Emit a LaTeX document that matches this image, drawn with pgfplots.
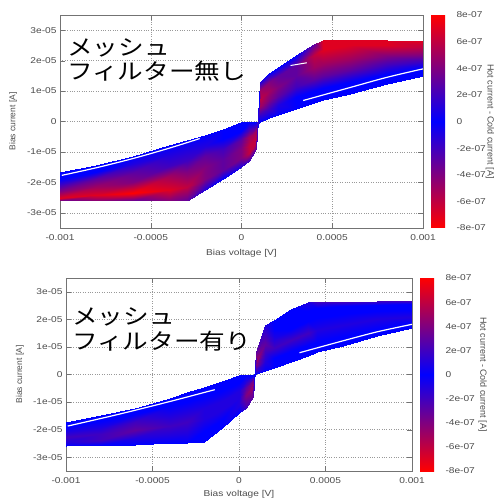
\documentclass[border=0pt]{standalone}
\usepackage{fontspec}
\setmainfont{Liberation Sans}
\newfontfamily\hsf[FakeStretch=1.2]{Liberation Sans}
\newfontfamily\jp[FakeStretch=1.17]{Noto Sans CJK JP}
\usepackage{pgfplots}
\usepackage{pgfplotstable}
\pgfplotsset{compat=1.18}

\pgfplotstableread{
x y c
-0.001 -1.67e-5 0
-0.0008 -1.42e-5 0
-0.0006 -1.12e-5 0
-0.0004 -0.78e-5 0
-0.0003 -0.62e-5 0
-0.0002 -0.46e-5 0
-0.0001 -0.24e-5 0
0 -0.02e-5 0
0.00004 0 0
0.00008 0 0
0.0001 0 0
0.00015 0.1e-5 0
0.0002 0.22e-5 0
0.0003 0.42e-5 0
0.0004 0.62e-5 0
0.00045 0.7e-5 0
0.0006 0.92e-5 0
0.0008 1.22e-5 0
0.001 1.5e-5 0
-0.001 -1.9e-5 0
-0.0008 -1.65e-5 0
-0.0006 -1.4e-5 -1e-7
-0.0004 -1.1e-5 -1e-7
-0.0003 -0.95e-5 -1e-7
-0.0002 -0.8e-5 -1e-7
-0.0001 -0.58e-5 0
0 -0.3e-5 0
0.00004 -0.25e-5 -2e-7
0.00008 -0.15e-5 -2e-7
0.0001 0.25e-5 2e-7
0.00015 0.4e-5 2e-7
0.0002 0.55e-5 1e-7
0.0003 0.8e-5 0
0.0004 1.0e-5 0
0.00045 1.1e-5 0
0.0006 1.3e-5 0
0.0008 1.55e-5 0
0.001 1.75e-5 0
-0.001 -2.1e-5 -2e-7
-0.0008 -1.9e-5 -3e-7
-0.0006 -1.7e-5 -3e-7
-0.0004 -1.45e-5 -2e-7
-0.0003 -1.3e-5 -2e-7
-0.0002 -1.15e-5 -3e-7
-0.0001 -0.9e-5 -2e-7
0 -0.6e-5 -3e-7
0.00004 -0.5e-5 -5e-7
0.00008 -0.3e-5 -5e-7
0.0001 0.5e-5 5e-7
0.00015 0.7e-5 4e-7
0.0002 0.85e-5 3e-7
0.0003 1.15e-5 2e-7
0.0004 1.4e-5 3e-7
0.00045 1.5e-5 3e-7
0.0006 1.7e-5 3e-7
0.0008 1.85e-5 2e-7
0.001 2.0e-5 2e-7
-0.001 -2.3e-5 -4e-7
-0.0008 -2.15e-5 -5e-7
-0.0006 -2.0e-5 -4e-7
-0.0004 -1.8e-5 -5e-7
-0.0003 -1.65e-5 -4e-7
-0.0002 -1.5e-5 -4e-7
-0.0001 -1.25e-5 -3e-7
0 -0.9e-5 -4e-7
0.00004 -0.8e-5 -6e-7
0.00008 -0.5e-5 -6e-7
0.0001 0.75e-5 6e-7
0.00015 1.0e-5 5e-7
0.0002 1.15e-5 4e-7
0.0003 1.5e-5 3e-7
0.0004 1.8e-5 5e-7
0.00045 1.9e-5 5e-7
0.0006 2.05e-5 5e-7
0.0008 2.15e-5 4e-7
0.001 2.2e-5 4e-7
-0.001 -2.5e-5 -7e-7
-0.0008 -2.4e-5 -7e-7
-0.0006 -2.35e-5 -8e-7
-0.0004 -2.25e-5 -7e-7
-0.0003 -2.15e-5 -6e-7
-0.0002 -1.9e-5 -4e-7
-0.0001 -1.6e-5 -3e-7
0 -1.2e-5 -4e-7
0.00004 -1.05e-5 -6e-7
0.00008 -0.7e-5 -6e-7
0.0001 1.0e-5 5e-7
0.00015 1.3e-5 4e-7
0.0002 1.5e-5 3e-7
0.0003 1.85e-5 3e-7
0.0004 2.2e-5 6e-7
0.00045 2.35e-5 7e-7
0.0006 2.5e-5 7e-7
0.0008 2.5e-5 7e-7
0.001 2.45e-5 6e-7
-0.001 -2.6e-5 -3e-7
-0.0008 -2.6e-5 -4e-7
-0.0006 -2.6e-5 -3e-7
-0.0004 -2.6e-5 -4e-7
-0.0003 -2.6e-5 -3e-7
-0.0002 -2.25e-5 -1e-7
-0.0001 -1.9e-5 0
0 -1.5e-5 -1e-7
0.00004 -1.3e-5 -2e-7
0.00008 -0.9e-5 -3e-7
0.0001 1.3e-5 1e-7
0.00015 1.6e-5 0
0.0002 1.8e-5 0
0.0003 2.2e-5 0
0.0004 2.55e-5 3e-7
0.00045 2.68e-5 7e-7
0.0006 2.68e-5 7e-7
0.0008 2.67e-5 7e-7
0.001 2.65e-5 7e-7
}\toptab

\pgfplotstableread{
x y c
-0.001 -1.72e-5 0
-0.0008 -1.47e-5 0
-0.0006 -1.2e-5 0
-0.0004 -0.85e-5 0
-0.0003 -0.65e-5 0
-0.0002 -0.45e-5 0
-0.0001 -0.25e-5 0
0 0 0
0.00004 0 0
0.00008 0 0
0.0001 0.02e-5 0
0.00015 0.12e-5 0
0.0002 0.25e-5 0
0.0003 0.45e-5 0
0.0004 0.68e-5 0
0.00045 0.8e-5 0
0.0006 1.05e-5 0
0.0008 1.38e-5 0
0.001 1.67e-5 0
-0.001 -1.9e-5 0
-0.0008 -1.68e-5 0
-0.0006 -1.42e-5 0
-0.0004 -1.15e-5 0
-0.0003 -0.98e-5 0
-0.0002 -0.82e-5 0
-0.0001 -0.6e-5 0
0 -0.3e-5 0
0.00004 -0.25e-5 -1e-7
0.00008 -0.12e-5 -2e-7
0.0001 0.18e-5 2e-7
0.00015 0.45e-5 1e-7
0.0002 0.6e-5 0
0.0003 0.85e-5 0
0.0004 1.08e-5 0
0.00045 1.18e-5 0
0.0006 1.4e-5 0
0.0008 1.65e-5 0
0.001 1.85e-5 0
-0.001 -2.1e-5 -1e-7
-0.0008 -1.93e-5 -1e-7
-0.0006 -1.73e-5 -2e-7
-0.0004 -1.5e-5 -1e-7
-0.0003 -1.35e-5 -1e-7
-0.0002 -1.2e-5 -1e-7
-0.0001 -0.95e-5 -1e-7
0 -0.6e-5 -1e-7
0.00004 -0.5e-5 -3e-7
0.00008 -0.25e-5 -4e-7
0.0001 0.35e-5 4e-7
0.00015 0.8e-5 2e-7
0.0002 0.95e-5 2e-7
0.0003 1.25e-5 2e-7
0.0004 1.5e-5 2e-7
0.00045 1.6e-5 1e-7
0.0006 1.8e-5 1e-7
0.0008 2.0e-5 1e-7
0.001 2.1e-5 1e-7
-0.001 -2.28e-5 -2e-7
-0.0008 -2.15e-5 -2e-7
-0.0006 -2.02e-5 -3e-7
-0.0004 -1.85e-5 -2e-7
-0.0003 -1.72e-5 -2e-7
-0.0002 -1.6e-5 -1e-7
-0.0001 -1.3e-5 -1e-7
0 -0.85e-5 -1e-7
0.00004 -0.75e-5 -4e-7
0.00008 -0.4e-5 -5e-7
0.0001 0.5e-5 5e-7
0.00015 1.1e-5 3e-7
0.0002 1.3e-5 1e-7
0.0003 1.65e-5 0
0.0004 1.95e-5 0
0.00045 2.05e-5 0
0.0006 2.2e-5 0
0.0008 2.3e-5 0
0.001 2.35e-5 0
-0.001 -2.45e-5 -1e-7
-0.0008 -2.38e-5 -2e-7
-0.0006 -2.3e-5 -1e-7
-0.0004 -2.2e-5 -1e-7
-0.0003 -2.12e-5 -1e-7
-0.0002 -2.05e-5 0
-0.0001 -1.65e-5 0
0 -1.1e-5 -1e-7
0.00004 -0.95e-5 -3e-7
0.00008 -0.6e-5 -4e-7
0.0001 0.65e-5 4e-7
0.00015 1.45e-5 2e-7
0.0002 1.65e-5 0
0.0003 2.0e-5 0
0.0004 2.3e-5 0
0.00045 2.4e-5 0
0.0006 2.5e-5 0
0.0008 2.53e-5 0
0.001 2.55e-5 0
-0.001 -2.6e-5 0
-0.0008 -2.57e-5 0
-0.0006 -2.54e-5 0
-0.0004 -2.5e-5 0
-0.0003 -2.48e-5 0
-0.0002 -2.45e-5 0
-0.0001 -1.95e-5 0
0 -1.4e-5 0
0.00004 -1.2e-5 -2e-7
0.00008 -0.8e-5 -3e-7
0.0001 0.8e-5 3e-7
0.00015 1.78e-5 1e-7
0.0002 1.98e-5 0
0.0003 2.39e-5 0
0.0004 2.63e-5 1e-7
0.00045 2.63e-5 2e-7
0.0006 2.63e-5 2e-7
0.0008 2.65e-5 2e-7
0.001 2.67e-5 2e-7
}\bottab

\pgfplotsset{
  myax/.style={
    scale only axis,
    xmin=-0.001, xmax=0.001, ymin=-3.5e-5, ymax=3.5e-5,
    xtick={-0.001,-0.0005,0,0.0005,0.001},
    xticklabels={-0.001,-0.0005,0,0.0005,0.001},
    ytick={-3e-5,-2e-5,-1e-5,0,1e-5,2e-5,3e-5},
    yticklabels={-3e-05,-2e-05,-1e-05,0,1e-05,2e-05,3e-05},
    scaled x ticks=false, scaled y ticks=false,
    grid=major, grid style={dotted, black!40},
    axis line style={black!55}, tick style={black!55},
    tick align=inside, major tick length=5bp,
    tick label style={font=\hsf\fontsize{8.5}{10}\selectfont, text=black!70},
    xticklabel style={yshift=-3bp},
    xlabel={Bias voltage [V]}, ylabel={Bias current [A]},
    xlabel style={font=\hsf\fontsize{8.5}{10}\selectfont, text=black!70, anchor=center},
    ylabel style={font=\fontsize{8.5}{10}\selectfont, text=black!70, anchor=center},
    colormap={rbr}{rgb255=(255,0,0) rgb255=(0,0,255) rgb255=(255,0,0)},
    point meta min=-8e-7, point meta max=8e-7,
    colorbar,
  },
  mycb/.style={
    at={(parent axis.north east)}, anchor=north west, xshift=-0.5bp,
    scale only axis, width=19bp,
    ytick={-8e-7,-6e-7,-4e-7,-2e-7,0,2e-7,4e-7,6e-7,8e-7},
    yticklabels={-8e-07,-6e-07,-4e-07,-2e-07,0,2e-07,4e-07,6e-07,8e-07},
    scaled y ticks=false,
    axis line style={draw=none}, major tick length=0pt,
    yticklabel style={font=\hsf\fontsize{8.5}{10}\selectfont, text=black!70, xshift=3bp},
    ylabel={Hot current - Cold current [A]},
  },
}

\begin{document}
\begin{tikzpicture}
\useasboundingbox (0,0) rectangle (496bp,-501bp);
% top panel
\begin{axis}[myax, at={(60bp,-15bp)}, anchor=north west, width=363bp, height=213bp,
  xlabel style={at={(axis description cs:0.5,-0.117)}},
  ylabel style={at={(axis description cs:-0.129,0.5)}},
  colorbar style={mycb, height=213bp,
    ylabel style={font=\fontsize{9}{10}\selectfont, text=black!70, rotate=180, anchor=center, at={(axis description cs:3.1,0.5)}}}]
\addplot[surf, shader=interp, mesh/cols=19, point meta=explicit] table[x=x, y=y, meta=c] {\toptab};
\addplot[white, line width=1.2pt, smooth] coordinates {(-0.00099,-1.77e-5) (-0.0008,-1.52e-5) (-0.0006,-1.22e-5) (-0.0004,-0.88e-5) (-0.00023,-0.56e-5)};
\addplot[white, line width=1.2pt, smooth] coordinates {(0.00034,0.69e-5) (0.0006,1.12e-5) (0.0008,1.45e-5) (0.001,1.73e-5)};
\addplot[white, line width=1pt] coordinates {(0.00027,1.84e-5) (0.00036,1.93e-5)};
\node[anchor=north west, inner sep=0pt, align=left, font=\jp\fontsize{22}{25}\selectfont] at (axis description cs:0.019,0.892) {メッシュ\\フィルター無し};
\end{axis}
% bottom panel
\begin{axis}[myax, at={(66bp,-278bp)}, anchor=north west, width=346bp, height=193bp,
  xlabel style={at={(axis description cs:0.5,-0.119)}},
  ylabel style={at={(axis description cs:-0.133,0.5)}},
  colorbar style={mycb, height=193bp,
    ylabel style={font=\fontsize{9}{10}\selectfont, text=black!70, rotate=180, anchor=center, at={(axis description cs:3.3,0.5)}}}]
\addplot[surf, shader=interp, mesh/cols=19, point meta=explicit] table[x=x, y=y, meta=c] {\bottab};
\addplot[white, line width=1.2pt, smooth] coordinates {(-0.00099,-1.87e-5) (-0.0007,-1.45e-5) (-0.0004,-0.98e-5) (-0.00014,-0.55e-5)};
\addplot[white, line width=1.2pt, smooth] coordinates {(0.00035,0.79e-5) (0.0006,1.22e-5) (0.0008,1.55e-5) (0.001,1.82e-5)};
\node[anchor=north west, inner sep=0pt, align=left, font=\jp\fontsize{22}{25}\selectfont] at (axis description cs:0.017,0.845) {メッシュ\\フィルター有り};
\end{axis}
\end{tikzpicture}
\end{document}
